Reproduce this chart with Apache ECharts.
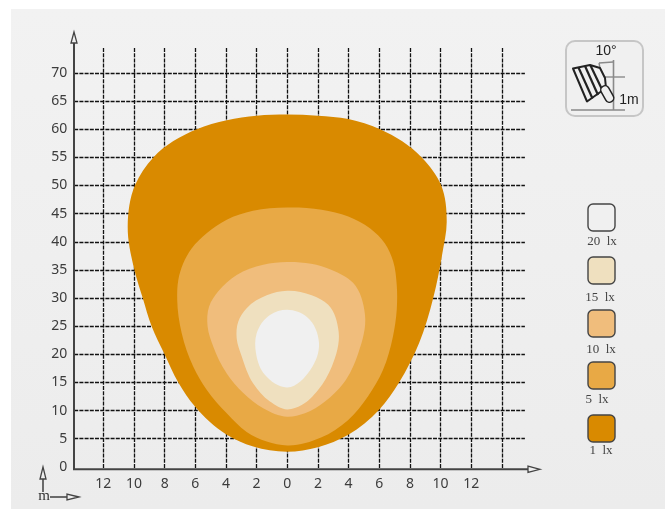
<!DOCTYPE html>
<html>
<head>
<meta charset="utf-8">
<title>Isolux</title>
<style>
  html, body { margin: 0; padding: 0; background: #fff; }
  #chart { width: 665px; height: 509px; }
</style>
<script src="https://cdn.jsdelivr.net/npm/echarts@6/dist/echarts.min.js"></script>
</head>
<body>
<div id="chart"></div>
<script>
// tick positions of both axes
const xTicks = [-14, -12, -10, -8, -6, -4, -2, 0, 2, 4, 6, 8, 10, 12, 14];
const xLabelTicks = [-12, -10, -8, -6, -4, -2, 0, 2, 4, 6, 8, 10, 12];
const yTicks = [5, 10, 15, 20, 25, 30, 35, 40, 45, 50, 55, 60, 65, 70];
const yLabelTicks = [0, 5, 10, 15, 20, 25, 30, 35, 40, 45, 50, 55, 60, 65, 70];

// isolux contours, [metres across, metres ahead]
const lux1 = [[0,62.6],[2,62.4],[3.98,61.8],[6.05,60],[8.77,55],[10.03,50.1],[10.4,43.5],[10.1,37.7],[9.52,30],[8.6,22],[7.29,15],[5.98,10.1],[3.98,5.7],[2,3.5],[0,2.7],[-2.22,3.6],[-4,5.8],[-6.02,10.7],[-7.11,15],[-8.02,20.1],[-8.85,25],[-9.43,30],[-10,35.3],[-10.41,42.7],[-9.93,50.1],[-8.74,55],[-5.91,60],[-3.95,61.6],[-2,62.4]];
const lux5 = [[0,46.1],[2.24,45.7],[3.98,44.5],[5.39,42.4],[6.37,39.7],[6.91,36.5],[7.14,32.3],[7.14,27.9],[6.89,23.1],[6.24,17.2],[5.26,12.5],[3.96,8.3],[2.2,5.2],[0,3.8],[-1.34,4.5],[-2.65,6.2],[-3.95,9.5],[-5.26,13.7],[-6.13,17.8],[-6.89,23.8],[-7.18,29.7],[-7.11,33.2],[-6.24,38.8],[-5.26,41.5],[-3.95,43.9],[-2.24,45.5]];
const lux10 = [[0,36.4],[2.9,35],[4.29,32.7],[5.07,27],[4.63,20.2],[3.65,14.8],[2.46,11.6],[1.15,9.5],[0,8.9],[-1.57,10.4],[-2.87,13.1],[-3.95,16.6],[-4.83,21.4],[-5.2,25],[-5.1,28.5],[-4.5,31.2],[-3.3,34.1],[-1.57,35.9]];
const lux15 = [[0,31.3],[1.59,30.5],[2.67,28.8],[3.35,24],[2.9,17.8],[2.02,13.7],[0.94,11],[0,10.2],[-1.13,11.6],[-2.22,14.8],[-2.97,19.6],[-3.3,22.8],[-3.2,25.8],[-2.65,28.2],[-1.34,30.5]];
const lux20 = [[0,27.9],[1.3,26.6],[2.07,22],[1.5,17.2],[0,14.1],[-1.45,16.3],[-2.04,20.2],[-2,23.7],[-1.13,27]];

const luxNames = ['1 lx', '5 lx', '10 lx', '15 lx', '20 lx'];
const luxColors = ['#d98a00', '#e8a945', '#f0bd7c', '#efe0bf', '#f0f0f0'];
const contours = [lux1, lux5, lux10, lux15, lux20];

const AXIS_COLOR = '#444';
const TEXT_COLOR = '#3c3c3c';
const SANS = '"Noto Sans", sans-serif';
const SERIF = '"Liberation Serif", serif';

const chart = echarts.init(document.getElementById('chart'), null, { renderer: 'canvas' });

// tangent direction at b, weighted so the shorter neighbour counts for more
function tangent(a, b, c) {
  const la = Math.hypot(b[0] - a[0], b[1] - a[1]) || 1;
  const lc = Math.hypot(c[0] - b[0], c[1] - b[1]) || 1;
  const tx = (b[0] - a[0]) * lc / la + (c[0] - b[0]) * la / lc;
  const ty = (b[1] - a[1]) * lc / la + (c[1] - b[1]) * la / lc;
  const len = Math.hypot(tx, ty) || 1;
  return [tx / len, ty / len];
}

// closed smooth outline through the pixel points
function outlinePath(pts) {
  const n = pts.length;
  let d = 'M' + pts[0][0] + ' ' + pts[0][1];
  for (let i = 0; i < n; i++) {
    const p0 = pts[(i - 1 + n) % n];
    const p1 = pts[i];
    const p2 = pts[(i + 1) % n];
    const p3 = pts[(i + 2) % n];
    const chord = Math.hypot(p2[0] - p1[0], p2[1] - p1[1]) / 3;
    const t1 = tangent(p0, p1, p2);
    const t2 = tangent(p1, p2, p3);
    d += 'C' + (p1[0] + t1[0] * chord) + ' ' + (p1[1] + t1[1] * chord)
      + ' ' + (p2[0] - t2[0] * chord) + ' ' + (p2[1] - t2[1] * chord)
      + ' ' + p2[0] + ' ' + p2[1];
  }
  return d + 'Z';
}

function contourSeries(points, i) {
  return {
    name: luxNames[i],
    type: 'custom',
    coordinateSystem: 'cartesian2d',
    z: 5 + i,
    silent: true,
    data: points,
    encode: { x: 0, y: 1 },
    clip: false,
    // one closed shape per contour, drawn once
    renderItem(params, api) {
      if (params.dataIndex !== 0) return null;
      return {
        type: 'path',
        shape: { pathData: outlinePath(points.map(p => api.coord(p))) },
        style: { fill: luxColors[i], stroke: null }
      };
    }
  };
}

// hollow arrow head, tip first
function arrowHead(points) {
  return {
    type: 'polygon',
    z: 20,
    shape: { points },
    style: { fill: '#efefef', stroke: AXIS_COLOR, lineWidth: 1.3 }
  };
}

function line(x1, y1, x2, y2, stroke, lineWidth, z) {
  return {
    type: 'line',
    z: z || 20,
    shape: { x1, y1, x2, y2 },
    style: { stroke, lineWidth }
  };
}

function label(text, x, y, font, fill) {
  return {
    type: 'text',
    z: 25,
    x,
    y,
    style: { text, font, fill, align: 'center', verticalAlign: 'middle' }
  };
}

// legend swatches, top to bottom
const swatchTops = [204, 257, 310, 362, 415];
const swatchLabelX = [602, 600, 601, 597, 601];
const swatchLabelY = [242, 298, 350, 400, 451];
const legendItems = [];
[4, 3, 2, 1, 0].forEach((k, row) => {
  legendItems.push({
    type: 'rect',
    z: 20,
    shape: { x: 588, y: swatchTops[row], width: 27, height: 27, r: 5 },
    style: { fill: luxColors[k], stroke: '#444', lineWidth: 1.4 }
  });
  legendItems.push(label(luxNames[k].replace(' ', '  '), swatchLabelX[row], swatchLabelY[row], '13px ' + SERIF, '#444'));
});

// the small lamp pictogram, top right
const iconItems = [
  {
    type: 'rect',
    z: 20,
    shape: { x: 566, y: 41, width: 77, height: 75, r: 9 },
    style: { fill: '#f0f0f0', stroke: '#c6c6c6', lineWidth: 2 }
  },
  line(571, 110, 625, 110, '#8a8a8a', 1.6, 21),
  line(613.5, 60, 613.5, 110, '#8a8a8a', 1.6, 21),
  line(600, 77, 625, 77, '#8a8a8a', 1.4, 21),
  line(599, 63, 613, 62, '#8a8a8a', 1.4, 21),
  line(599, 63, 600, 68, '#8a8a8a', 1.4, 21),
  {
    type: 'polygon',
    z: 22,
    shape: { points: [[573, 68.5], [590, 65], [600, 68], [605, 78], [606, 88], [587, 101.5]] },
    style: { fill: '#f0f0f0', stroke: '#222', lineWidth: 2, lineJoin: 'round' }
  },
  line(578.5, 67.5, 592.5, 98.5, '#222', 2.2, 23),
  line(585, 66, 598, 95, '#222', 2.2, 23),
  line(590.5, 65.5, 603, 91.5, '#222', 2.2, 23),
  {
    type: 'line', z: 23,
    shape: { x1: 605, y1: 90, x2: 609.5, y2: 98 },
    style: { stroke: '#222', lineWidth: 10, lineCap: 'round' }
  },
  {
    type: 'line', z: 24,
    shape: { x1: 605, y1: 90, x2: 609.5, y2: 98 },
    style: { stroke: '#f0f0f0', lineWidth: 7, lineCap: 'round' }
  },
  label('10°', 606, 51, '14px "Liberation Sans", sans-serif', '#222'),
  label('1m', 629, 100, '14px "Liberation Sans", sans-serif', '#222')
];

const option = {
  animation: false,
  backgroundColor: '#ffffff',
  grid: { left: 74.2, top: 48, width: 450.7, height: 421.3, containLabel: false },
  xAxis: {
    type: 'value',
    min: -13.9,
    max: 15.5,
    axisLine: { show: false },
    axisTick: { show: false, customValues: xTicks },
    axisLabel: {
      customValues: xLabelTicks,
      formatter: v => String(Math.abs(v)),
      color: TEXT_COLOR,
      fontFamily: SANS,
      fontSize: 14,
      margin: 8
    },
    splitLine: {
      show: true,
      lineStyle: { color: '#111', width: 1.3, type: [4, 1.2] }
    }
  },
  yAxis: {
    type: 'value',
    min: -0.44,
    max: 74.44,
    axisLine: { show: false },
    axisTick: { show: false, customValues: yTicks },
    axisLabel: {
      customValues: yLabelTicks,
      color: TEXT_COLOR,
      fontFamily: SANS,
      fontSize: 14,
      margin: 7
    },
    splitLine: {
      show: true,
      lineStyle: { color: '#111', width: 1.3, type: [4, 1.2] }
    }
  },
  graphic: [
    {
      type: 'rect',
      z: -10,
      zlevel: -1,
      shape: { x: 11, y: 9, width: 654, height: 500 },
      style: {
        fill: new echarts.graphic.LinearGradient(0, 0, 0, 1, [
          { offset: 0, color: '#f2f2f2' },
          { offset: 1, color: '#ececec' }
        ])
      }
    },
    // main axes with their arrows
    line(74, 469.3, 74, 43, AXIS_COLOR, 2),
    arrowHead([[74, 32], [71, 43], [77, 43]]),
    line(73, 469.3, 528, 469.3, AXIS_COLOR, 2),
    arrowHead([[540, 469.3], [528, 466], [528, 472.5]]),
    // unit key, bottom left
    line(43, 479, 43, 492, '#333', 1.4),
    arrowHead([[43, 467], [40, 479], [46, 479]]),
    line(50, 497, 67, 497, '#333', 1.4),
    arrowHead([[79, 497], [67, 494], [67, 500]]),
    label('m', 44, 496, '15px ' + SERIF, '#333'),
    ...legendItems,
    ...iconItems
  ],
  series: contours.map(contourSeries)
};

chart.setOption(option);

window.addEventListener('resize', () => {
  chart.resize();
});
</script>
</body>
</html>
